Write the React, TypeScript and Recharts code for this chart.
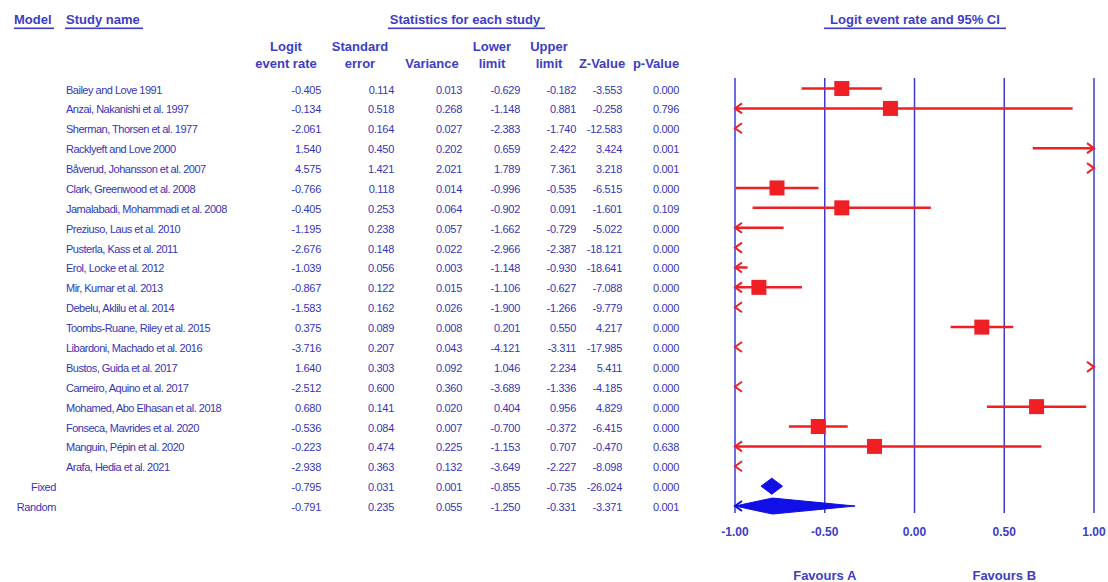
import { ComposedChart, XAxis, YAxis, Scatter, ReferenceLine } from 'recharts';

// study rows, then the two pooled models
const STUDIES = [
  'Bailey and Love 1991',
  'Anzai, Nakanishi et al. 1997',
  'Sherman, Thorsen et al. 1977',
  'Racklyeft and Love 2000',
  'Båverud, Johansson et al. 2007',
  'Clark, Greenwood et al. 2008',
  'Jamalabadi, Mohammadi et al. 2008',
  'Preziuso, Laus et al. 2010',
  'Pusterla, Kass et al. 2011',
  'Erol, Locke et al. 2012',
  'Mir, Kumar et al. 2013',
  'Debelu, Aklilu et al. 2014',
  'Toombs-Ruane, Riley et al. 2015',
  'Libardoni, Machado et al. 2016',
  'Bustos, Guida et al. 2017',
  'Carneiro, Aquino et al. 2017',
  'Mohamed, Abo Elhasan et al. 2018',
  'Fonseca, Mavrides et al. 2020',
  'Manguin, Pépin et al. 2020',
  'Arafa, Hedia et al. 2021',
];
const MODELS = ['Fixed', 'Random'];

const LOGIT = [-0.405, -0.134, -2.061, 1.54, 4.575, -0.766, -0.405, -1.195, -2.676, -1.039, -0.867, -1.583, 0.375, -3.716, 1.64, -2.512, 0.68, -0.536, -0.223, -2.938, -0.795, -0.791];
const STD_ERR = [0.114, 0.518, 0.164, 0.45, 1.421, 0.118, 0.253, 0.238, 0.148, 0.056, 0.122, 0.162, 0.089, 0.207, 0.303, 0.6, 0.141, 0.084, 0.474, 0.363, 0.031, 0.235];
const VARIANCE = [0.013, 0.268, 0.027, 0.202, 2.021, 0.014, 0.064, 0.057, 0.022, 0.003, 0.015, 0.026, 0.008, 0.043, 0.092, 0.36, 0.02, 0.007, 0.225, 0.132, 0.001, 0.055];
const LOWER = [-0.629, -1.148, -2.383, 0.659, 1.789, -0.996, -0.902, -1.662, -2.966, -1.148, -1.106, -1.9, 0.201, -4.121, 1.046, -3.689, 0.404, -0.7, -1.153, -3.649, -0.855, -1.25];
const UPPER = [-0.182, 0.881, -1.74, 2.422, 7.361, -0.535, 0.091, -0.729, -2.387, -0.93, -0.627, -1.266, 0.55, -3.311, 2.234, -1.336, 0.956, -0.372, 0.707, -2.227, -0.735, -0.331];
const Z_VALUE = [-3.553, -0.258, -12.583, 3.424, 3.218, -6.515, -1.601, -5.022, -18.121, -18.641, -7.088, -9.779, 4.217, -17.985, 5.411, -4.185, 4.829, -6.415, -0.47, -8.098, -26.024, -3.371];
const P_VALUE = [0, 0.796, 0, 0.001, 0.001, 0, 0.109, 0, 0, 0, 0, 0, 0, 0, 0, 0, 0, 0, 0.638, 0, 0, 0.001];

const X_TICKS = [-1, -0.5, 0, 0.5, 1];
const FAVOURS_AT = [-0.5, 0.5];
const FAVOURS = ['Favours A', 'Favours B'];

const FONT = '"Liberation Sans", Arial, sans-serif';
const TXT = '#3535b8';
const HEAD = '#3d3dc6';
const GRID = '#3b3bd0';
const RED = '#ef1f24';
const DIAMOND = '#1010e6';

const COLS = [
  { vals: LOGIT, right: 321, cx: 286, head: ['Logit', 'event rate'] },
  { vals: STD_ERR, right: 394, cx: 360, head: ['Standard', 'error'] },
  { vals: VARIANCE, right: 462, cx: 432, head: ['', 'Variance'] },
  { vals: LOWER, right: 520, cx: 492, head: ['Lower', 'limit'] },
  { vals: UPPER, right: 576, cx: 549, head: ['Upper', 'limit'] },
  { vals: Z_VALUE, right: 622, cx: 602, head: ['', 'Z-Value'] },
  { vals: P_VALUE, right: 679, cx: 656, head: ['', 'p-Value'] },
];

const ROWS = LOGIT.map((_, i) => i + 1);
const N = STUDIES.length;
const clamp = (v: number) => Math.max(-1, Math.min(1, v));

const squares = LOGIT.slice(0, N)
  .map((x, i) => ({ x, y: i + 1 }))
  .filter((d) => d.x >= -1 && d.x <= 1);

function RowTick({ y, payload }: any) {
  const i = payload.value - 1;
  const pooled = i >= N;
  return (
    <g fontFamily={FONT} fontSize={11} fill={TXT}>
      {pooled ? (
        <text x={56} y={y} dy={5} textAnchor="end" letterSpacing={-0.4}>{MODELS[i - N]}</text>
      ) : (
        <text x={66} y={y} dy={5} letterSpacing={-0.5}>{STUDIES[i]}</text>
      )}
      {COLS.map((c, k) => (
        <text key={k} x={c.right} y={y} dy={5} textAnchor="end" letterSpacing={-0.3}>
          {c.vals[i].toFixed(3)}
        </text>
      ))}
    </g>
  );
}

// x tick: the value, plus the "Favours" caption under -0.5 / 0.5
function XTick({ x, y, payload }: any) {
  const v = payload.value as number;
  const fav = FAVOURS_AT.indexOf(v);
  return (
    <g fontFamily={FONT} fontWeight={700} fill={HEAD}>
      <text x={x} y={y} dy="0.71em" textAnchor="middle" fontSize={12}>{v.toFixed(2)}</text>
      {fav >= 0 && (
        <text x={x} y={y} dy={53} textAnchor="middle" fontSize={13}>{FAVOURS[fav]}</text>
      )}
    </g>
  );
}

const arrow = (x: number, y: number, dir: number) =>
  `M${x - dir * 7},${y - 5}L${x},${y}L${x - dir * 7},${y + 5}`;

const ciShape = (left: boolean, right: boolean) => (p: any) => {
  const x1 = Number(p.x1), x2 = Number(p.x2), y = Number(p.y1);
  return (
    <g stroke={RED} fill="none">
      {x2 - x1 > 0.5 && <line x1={x1} x2={x2} y1={y} y2={y} strokeWidth={2.5} />}
      {left && <path d={arrow(x1, y, -1)} strokeWidth={2} />}
      {right && <path d={arrow(x2, y, 1)} strokeWidth={2} />}
    </g>
  );
};

const halfDiamond = (side: 'L' | 'R', withArrow: boolean) => (p: any) => {
  const x1 = Number(p.x1), x2 = Number(p.x2), y = Number(p.y1);
  const h = 8;
  const pts =
    side === 'L'
      ? `${x1},${y} ${x2},${y - h} ${x2},${y + h}`
      : `${x1},${y - h} ${x2},${y} ${x1},${y + h}`;
  return (
    <g>
      <polygon points={pts} fill={DIAMOND} stroke={DIAMOND} strokeWidth={1} />
      {withArrow && <path d={arrow(x1, y, -1)} stroke={DIAMOND} strokeWidth={2} fill="none" />}
    </g>
  );
};

const Square = (p: any) => <rect x={p.cx - 7.5} y={p.cy - 7.5} width={15} height={15} fill={RED} />;

function Headers() {
  const t = { fontFamily: FONT, fontSize: 13, fontWeight: 700, fill: HEAD } as const;
  return (
    <svg width={1108} height={80} style={{ position: 'absolute', left: 0, top: 0 }}>
      <text x={14} y={24} {...t}>Model</text>
      <rect x={14} y={27.5} width={40} height={1.6} fill={HEAD} />
      <text x={66} y={24} {...t}>Study name</text>
      <rect x={65} y={27.5} width={78} height={1.6} fill={HEAD} />
      <text x={465} y={24} textAnchor="middle" {...t}>Statistics for each study</text>
      <rect x={388} y={27.5} width={157} height={1.6} fill={HEAD} />
      <text x={915} y={24} textAnchor="middle" {...t}>Logit event rate and 95% CI</text>
      <rect x={824} y={27.5} width={182} height={1.6} fill={HEAD} />
      {COLS.map((c, k) => (
        <g key={k}>
          <text x={c.cx} y={50.5} textAnchor="middle" {...t}>{c.head[0]}</text>
          <text x={c.cx} y={67.5} textAnchor="middle" {...t}>{c.head[1]}</text>
        </g>
      ))}
    </svg>
  );
}

export default function App() {
  const pooledRows = [N + 1, N + 2];
  return (
    <div style={{ position: 'absolute', left: 0, top: 0, width: 1108, height: 582, background: '#fff' }}>
      <ComposedChart width={1108} height={582} margin={{ top: 78, right: 14, bottom: 0, left: 0 }}>
        <XAxis
          type="number"
          dataKey="x"
          domain={[-1, 1]}
          ticks={X_TICKS}
          interval={0}
          height={69}
          axisLine={false}
          tickLine={false}
          tickMargin={8}
          tick={<XTick />}
        />
        <YAxis
          type="number"
          dataKey="y"
          domain={[0.47, 22.35]}
          reversed
          ticks={ROWS}
          interval={0}
          width={735}
          axisLine={false}
          tickLine={false}
          tick={<RowTick />}
        />
        {X_TICKS.map((t) => (
          <ReferenceLine key={t} x={t} stroke={GRID} strokeWidth={1.5} />
        ))}
        {LOGIT.slice(0, N).map((_, i) => (
          <ReferenceLine
            key={'ci' + i}
            ifOverflow="visible"
            segment={[
              { x: clamp(LOWER[i]), y: i + 1 },
              { x: clamp(UPPER[i]), y: i + 1 },
            ]}
            shape={ciShape(LOWER[i] < -1, UPPER[i] > 1)}
          />
        ))}
        <Scatter data={squares} fill={RED} shape={Square} isAnimationActive={false} />
        {pooledRows.map((r) => {
          const i = r - 1;
          return [
            <ReferenceLine
              key={'dl' + r}
              ifOverflow="visible"
              segment={[
                { x: clamp(LOWER[i]), y: r },
                { x: LOGIT[i], y: r },
              ]}
              shape={halfDiamond('L', LOWER[i] < -1)}
            />,
            <ReferenceLine
              key={'dr' + r}
              ifOverflow="visible"
              segment={[
                { x: LOGIT[i], y: r },
                { x: clamp(UPPER[i]), y: r },
              ]}
              shape={halfDiamond('R', false)}
            />,
          ];
        })}
      </ComposedChart>
      <Headers />
    </div>
  );
}
